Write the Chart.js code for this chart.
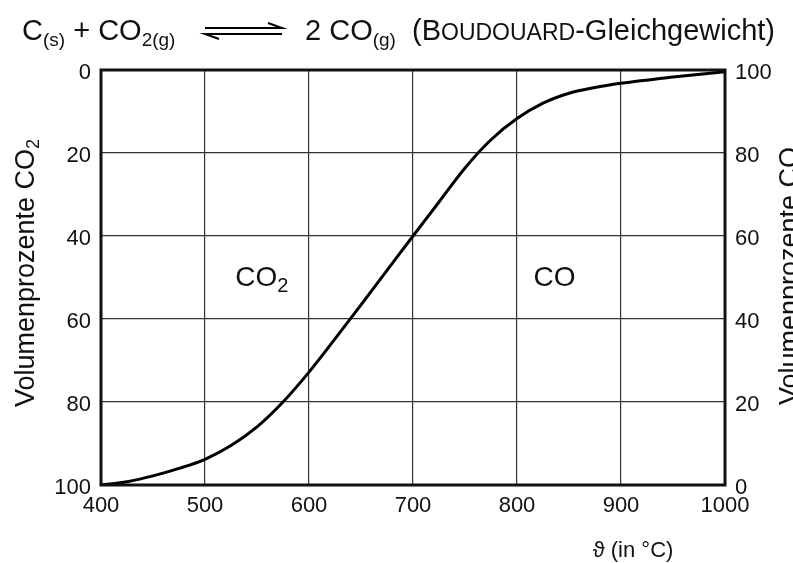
<!DOCTYPE html>
<html><head><meta charset="utf-8">
<script src="https://cdn.jsdelivr.net/npm/chart.js@4.4.0/dist/chart.umd.min.js"></script>
<style>html,body{margin:0;padding:0;background:#fff;}#wrap{width:793px;height:563px;position:relative;}</style>
</head><body><div id="wrap"><canvas id="c" width="793" height="563"></canvas></div>
<script>
// ---- data ----
const temperatures = [400,425,450,475,500,525,550,575,600,625,650,675,700,725,750,775,800,825,850,875,900,950,1000];
const coPercent    = [0,0.8,2.2,4,6.2,9.5,14,20,27.2,35.2,43.4,51.7,60,68.2,76.4,83.2,88.3,92,94.4,95.8,96.8,98.3,99.6];
const xTicks   = [400,500,600,700,800,900,1000];
const co2Ticks = [0,20,40,60,80,100];
const coTicks  = [0,20,40,60,80,100];
const leftTitle  = 'Volumenprozente CO';
const rightTitle = 'Volumenprozente CO';
const xTitle = 'ϑ (in °C)';

const FONT = '"Liberation Sans", Arial, sans-serif';
const INK = '#111';

function runs(ctx, x, y, list) {
  for (const r of list) {
    ctx.font = (r.b ? 'bold ' : '') + r.s + 'px ' + FONT;
    ctx.fillText(r.t, x, y + (r.dy || 0));
    x += ctx.measureText(r.t).width;
  }
  return x;
}

const decor = {
  id: 'decor',
  beforeDraw(chart) {
    const ctx = chart.ctx;
    ctx.save(); ctx.fillStyle = '#fff'; ctx.fillRect(0, 0, chart.width, chart.height); ctx.restore();
  },
  afterDraw(chart) {
    const ctx = chart.ctx, a = chart.chartArea, sx = chart.scales.x, sy = chart.scales.yCO;
    ctx.save();
    // frame
    ctx.strokeStyle = '#111'; ctx.lineWidth = 3;
    ctx.strokeRect(a.left, a.top, a.right - a.left, a.bottom - a.top);
    ctx.fillStyle = INK; ctx.textBaseline = 'alphabetic'; ctx.textAlign = 'left';
    // title
    const by = 40, big = 29, sub = 19;
    runs(ctx, 22, by, [{t:'C',s:big},{t:'(s)',s:sub,dy:6},{t:' + CO',s:big},{t:'2(g)',s:sub,dy:6}]);
    runs(ctx, 305, by, [{t:'2 CO',s:big},{t:'(g)',s:sub,dy:6}]);
    runs(ctx, 412, by, [{t:'(B',s:big},{t:'OUDOUARD',s:23},{t:'-Gleichgewicht)',s:big}]);
    // equilibrium arrows
    ctx.strokeStyle = '#000'; ctx.lineWidth = 2;
    ctx.beginPath();
    ctx.moveTo(205, 28); ctx.lineTo(282, 28); ctx.lineTo(268, 23);
    ctx.moveTo(282, 34); ctx.lineTo(205, 34); ctx.lineTo(219, 39);
    ctx.stroke();
    // in-plot labels
    const lx = sx.getPixelForValue(556), ly = sy.getPixelForValue(48);
    ctx.textAlign = 'left';
    runs(ctx, lx - 28, ly, [{t:'CO',s:28},{t:'2',s:20,dy:6}]);
    ctx.textAlign = 'center';
    ctx.font = '28px ' + FONT;
    ctx.fillText('CO', sx.getPixelForValue(836), sy.getPixelForValue(48));
    // x title
    ctx.font = '22px ' + FONT;
    ctx.fillText(xTitle, 633, 557);
    // left axis title (rotated)
    ctx.save();
    ctx.translate(34, 273); ctx.rotate(-Math.PI / 2);
    ctx.font = '27px ' + FONT;
    const w1 = ctx.measureText(leftTitle).width; ctx.font = '18px ' + FONT;
    const w2 = ctx.measureText('2').width;
    ctx.textAlign = 'left';
    runs(ctx, -(w1 + w2) / 2, 0, [{t:leftTitle,s:27},{t:'2',s:18,dy:5}]);
    ctx.restore();
    // right axis title (rotated, cut by the edge)
    ctx.save();
    ctx.translate(798, 276); ctx.rotate(-Math.PI / 2);
    ctx.font = '27px ' + FONT; ctx.textAlign = 'center';
    ctx.fillText(rightTitle, 0, 0);
    ctx.restore();
    ctx.restore();
  }
};

const tickFont = { size: 22, family: FONT };
const plain = v => String(v);
new Chart(document.getElementById('c'), {
  type: 'line',
  data: { datasets: [{
    data: temperatures.map((t, i) => ({ x: t, y: coPercent[i] })),
    xAxisID: 'x', yAxisID: 'yCO',
    borderColor: '#000', borderWidth: 3, pointRadius: 0, fill: false,
    cubicInterpolationMode: 'monotone'
  }]},
  options: {
    responsive: false, animation: false, devicePixelRatio: 1,
    layout: { padding: { top: 70, left: 0, right: 0, bottom: 0 } },
    plugins: { legend: { display: false }, tooltip: { enabled: false }, title: { display: false } },
    scales: {
      x: { type: 'linear', position: 'bottom', min: 400, max: 1000,
        afterBuildTicks: s => { s.ticks = xTicks.map(v => ({ value: v })); },
        afterFit: s => { s.height = 78; },
        grid: { color: '#333', lineWidth: 1.2, drawTicks: false },
        border: { display: false },
        ticks: { font: tickFont, color: INK, padding: 8, maxRotation: 0, callback: plain } },
      yCO2: { type: 'linear', position: 'left', reverse: true, min: 0, max: 100,
        afterBuildTicks: s => { s.ticks = co2Ticks.map(v => ({ value: v })); },
        afterFit: s => { s.width = 101; },
        grid: { display: false, drawTicks: false },
        border: { display: false },
        ticks: { font: tickFont, color: INK, padding: 10, labelOffset: 3, callback: plain } },
      yCO: { type: 'linear', position: 'right', min: 0, max: 100,
        afterBuildTicks: s => { s.ticks = coTicks.map(v => ({ value: v })); },
        afterFit: s => { s.width = 68; },
        grid: { color: '#333', lineWidth: 1.2, drawTicks: false },
        border: { display: false },
        ticks: { font: tickFont, color: INK, padding: 10, labelOffset: 3, callback: plain } }
    }
  },
  plugins: [decor]
});
</script></body></html>
